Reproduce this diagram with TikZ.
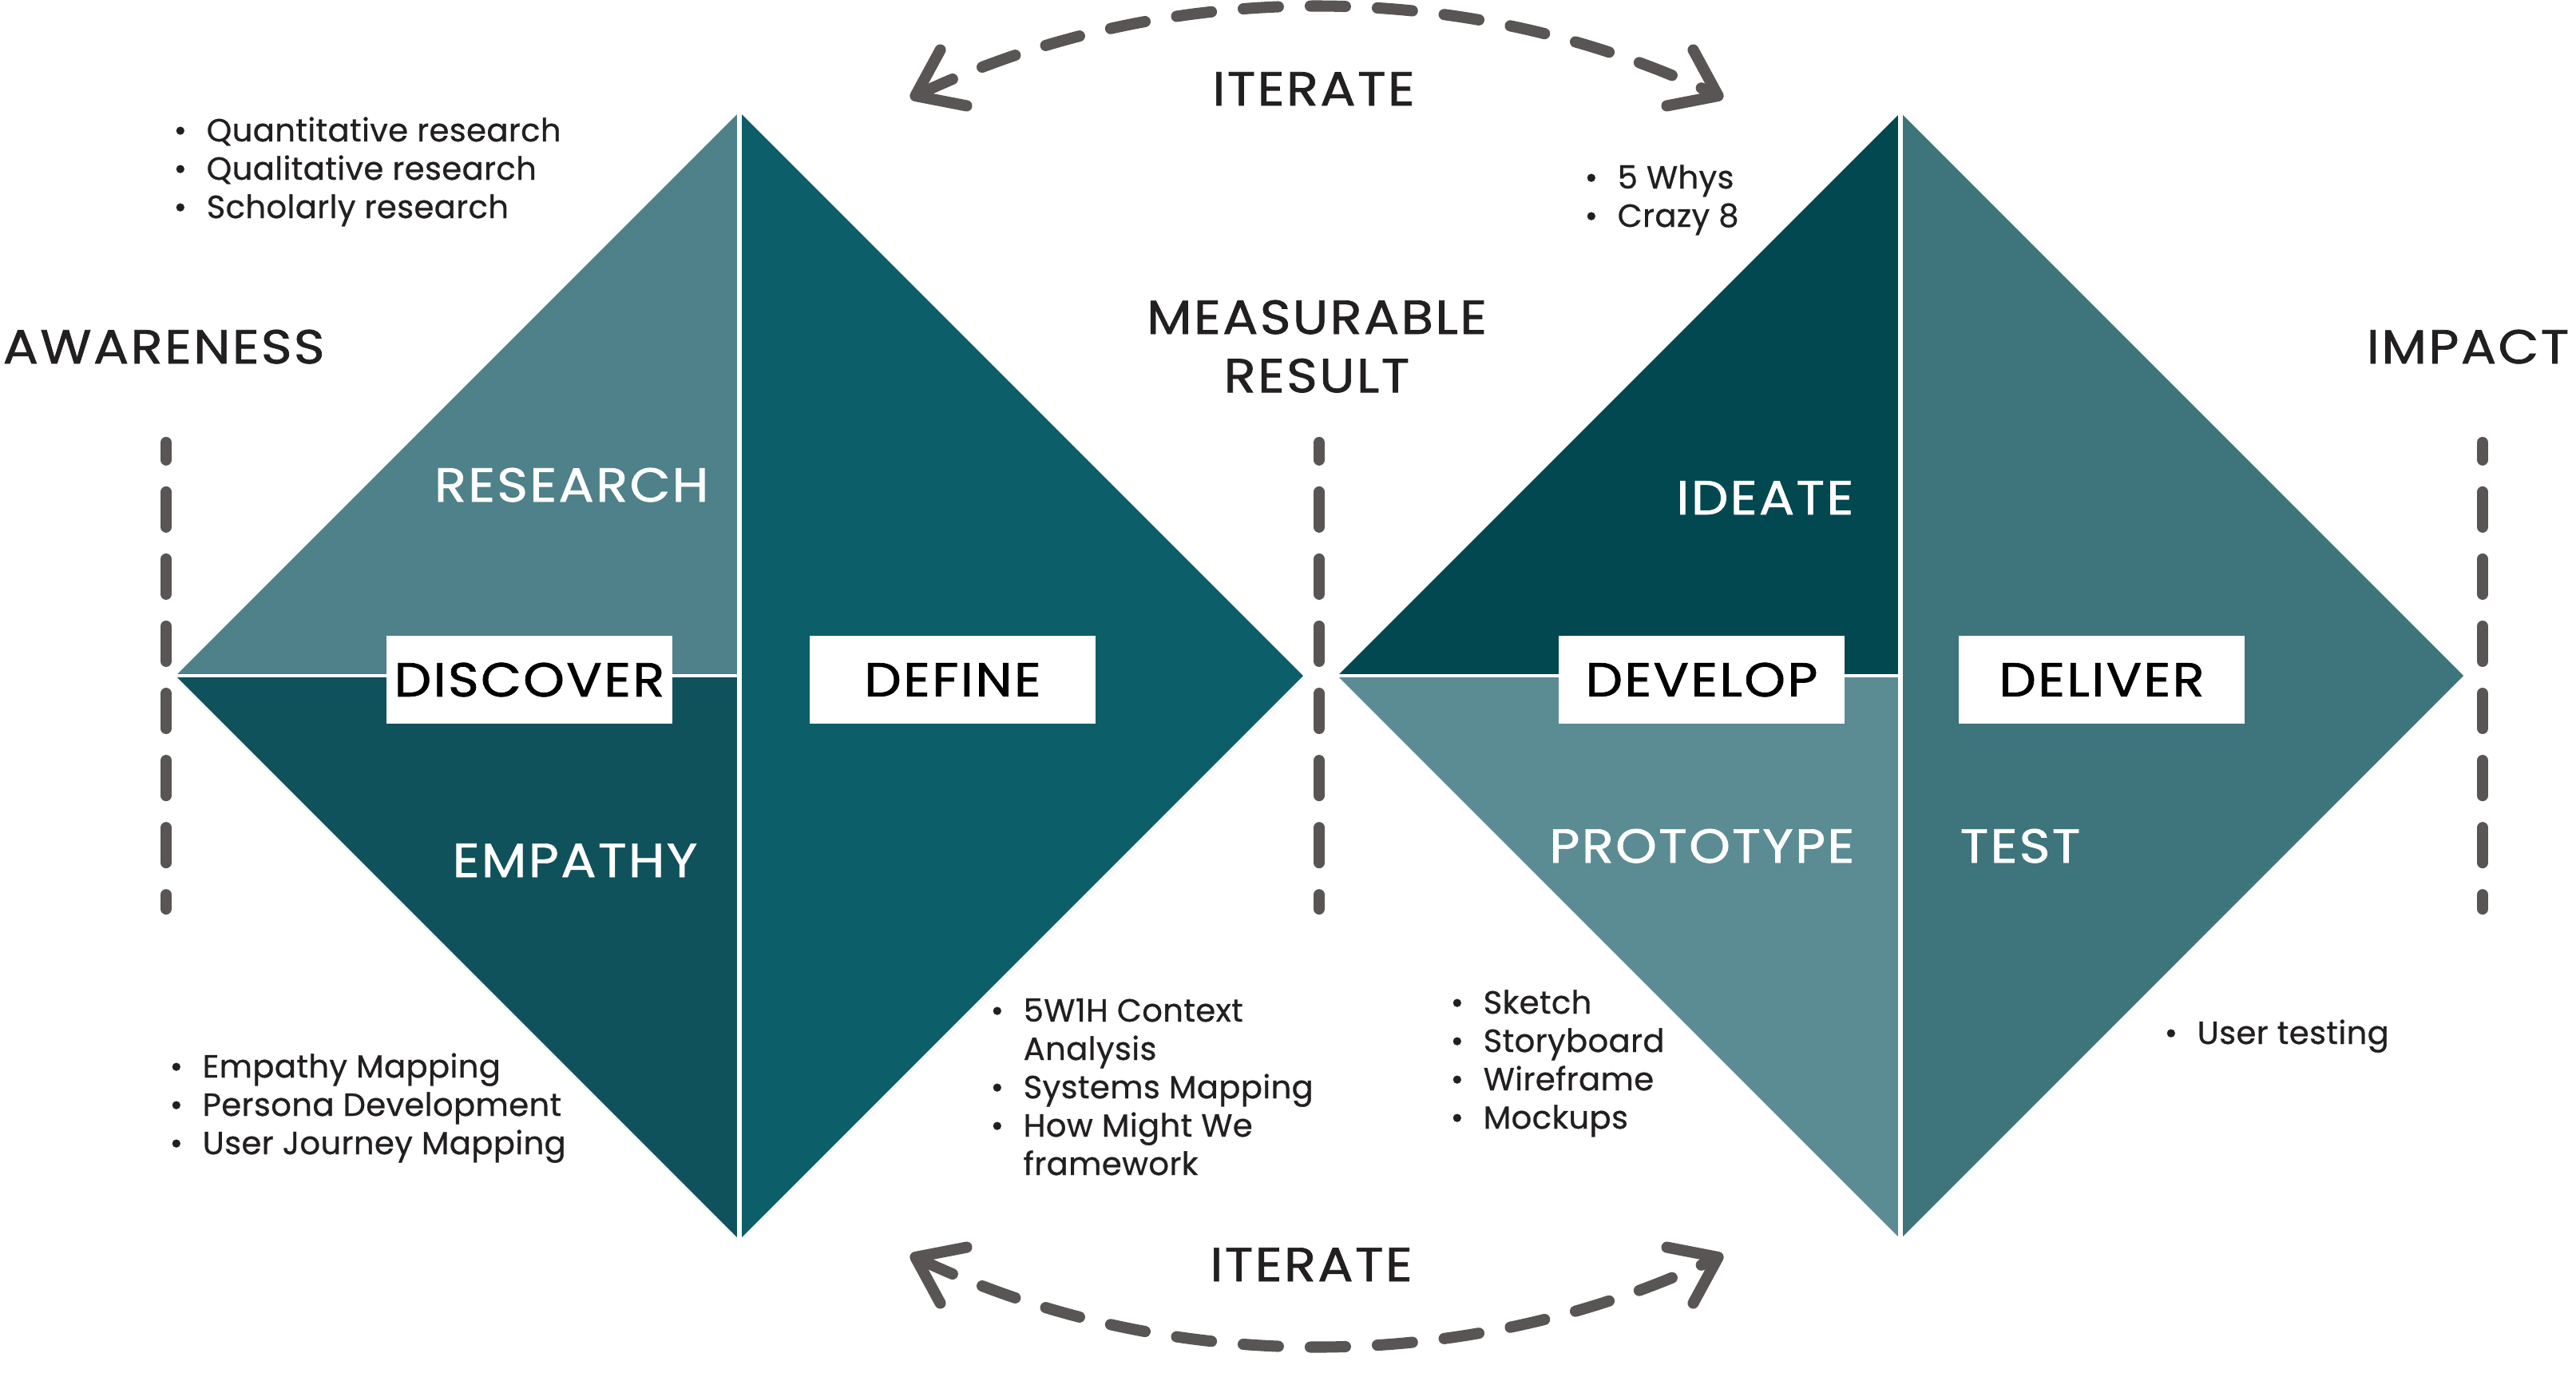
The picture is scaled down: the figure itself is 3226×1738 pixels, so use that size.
\documentclass[tikz,border=0pt]{standalone}
\usepackage{fontspec}
\setmainfont{Poppins}
\newfontfamily\headfont{Poppins}[FakeStretch=1.1,LetterSpace=4,FakeBold=1.2]
\newfontfamily\listfont{Poppins}[LetterSpace=1,FakeBold=0.7]
\usetikzlibrary{arrows.meta}
\definecolor{researchteal}{HTML}{4E8189}
\definecolor{empathyteal}{HTML}{10525B}
\definecolor{defineteal}{HTML}{0C5E68}
\definecolor{ideateteal}{HTML}{024850}
\definecolor{prototeal}{HTML}{5B8C94}
\definecolor{deliverteal}{HTML}{3E747C}
\definecolor{dashgray}{HTML}{595555}
\definecolor{inkblack}{HTML}{221F20}
\newcommand{\itm}{\llap{\textbullet\hspace{7pt}}}

\begin{document}
\begin{tikzpicture}[x=0.01cm,y=-0.01cm,
  phase/.style={inner sep=0pt,font=\headfont\fontsize{17}{20.8}\selectfont,text=inkblack},
  inlabel/.style={inner sep=0pt,font=\headfont\fontsize{17}{20.8}\selectfont,text=white},
  stagebox/.style={fill=white,minimum width=3.58cm,minimum height=1.1cm,inner sep=0pt,font=\headfont\fontsize{17}{20.8}\selectfont,text=black},
  itemlist/.style={anchor=base west,inner sep=0pt,font=\listfont\fontsize{11.4}{13.65}\selectfont,text=inkblack},
  dashline/.style={dashgray,line width=4pt,line cap=round,dash pattern=on 12.5pt off 11.4pt},
  barb/.tip={Straight Barb[length=15pt,width=22pt,line cap=round,line join=round]},
  iterarrow/.style={dashline,barb-barb}]
  \useasboundingbox (0,0) rectangle (3226,1738);

  % corner points of the two diamonds
  \coordinate (dl) at (220,846);  \coordinate (dt) at (926,140);
  \coordinate (dc) at (926,846);  \coordinate (db) at (926,1552);
  \coordinate (dr) at (1632,846);
  \coordinate (el) at (1675,846); \coordinate (et) at (2380,141);
  \coordinate (ec) at (2380,846); \coordinate (eb) at (2380,1551);
  \coordinate (er) at (3085,846);

  \fill[researchteal] (dl) -- (dt) -- (dc) -- cycle;
  \fill[empathyteal] (dl) -- (dc) -- (db) -- cycle;
  \fill[defineteal] (dt) -- (dr) -- (db) -- cycle;
  \fill[ideateteal] (el) -- (et) -- (ec) -- cycle;
  \fill[prototeal] (el) -- (ec) -- (eb) -- cycle;
  \fill[deliverteal] (et) -- (er) -- (eb) -- cycle;
  \draw[white,line width=1.7pt] (dt) -- (db) (et) -- (eb);
  \draw[white,line width=1.4pt] (dl) -- (dc) (el) -- (ec);

  % milestones
  \foreach \x in {208,1652,3109}
    \draw[dashline,dash phase=6.3pt] (\x,554) -- (\x,1138);

  \node[phase,anchor=base west] (aware) at (3,455) {AWARENESS};
  \node[phase,anchor=base east] (impact) at (3218,455) {IMPACT};
  \node[phase,anchor=base] (result) at (1649,418) {\begin{tabular}[t]{@{}c@{}}MEASURABLE\\RESULT\end{tabular}};

  % stage labels
  \node[stagebox] (discover) at (663,851) {DISCOVER};
  \node[stagebox] (define) at (1193,851) {DEFINE};
  \node[stagebox] (develop) at (2131,851) {DEVELOP};
  \node[stagebox] (deliver) at (2632,851) {DELIVER};

  \node[inlabel,anchor=base east] (research) at (888,628) {RESEARCH};
  \node[inlabel,anchor=base east] (empathy) at (874,1098) {EMPATHY};
  \node[inlabel,anchor=base east] (ideate) at (2322,644) {IDEATE};
  \node[inlabel,anchor=base east] (prototype) at (2323,1080) {PROTOTYPE};
  \node[inlabel,anchor=base west] (test) at (2454,1080) {TEST};

  % methods
  \node[itemlist] (rlist) at (258,177) {\begin{tabular}[t]{@{}l@{}}\itm Quantitative research\\\itm Qualitative research\\\itm Scholarly research\end{tabular}};
  \node[itemlist] (ilist) at (2025,236) {\begin{tabular}[t]{@{}l@{}}\itm 5 Whys\\\itm Crazy 8\end{tabular}};
  \node[itemlist] (elist) at (253,1349) {\begin{tabular}[t]{@{}l@{}}\itm Empathy Mapping\\\itm Persona Development\\\itm User Journey Mapping\end{tabular}};
  \node[itemlist] (dlist) at (1281,1279) {\begin{tabular}[t]{@{}l@{}}\itm 5W1H Context\\Analysis\\\itm Systems Mapping\\\itm How Might We\\framework\end{tabular}};
  \node[itemlist] (plist) at (1857,1269) {\begin{tabular}[t]{@{}l@{}}\itm Sketch\\\itm Storyboard\\\itm Wireframe\\\itm Mockups\end{tabular}};
  \node[itemlist] (tlist) at (2751,1307) {\begin{tabular}[t]{@{}l@{}}\itm User testing\end{tabular}};

  % iterate loops
  \coordinate (itl) at (1140,123);  \coordinate (itr) at (2158,123);
  \coordinate (ibl) at (1140,1571); \coordinate (ibr) at (2158,1571);
  \draw[iterarrow] (itl) .. controls (1462,-29) and (1836,-29) .. (itr);
  \draw[iterarrow] (ibl) .. controls (1462,1723) and (1836,1723) .. (ibr);
  \node[phase,anchor=base] (itertop) at (1645,132) {ITERATE};
  \node[phase,anchor=base] (iterbot) at (1642,1604) {ITERATE};
\end{tikzpicture}
\end{document}
